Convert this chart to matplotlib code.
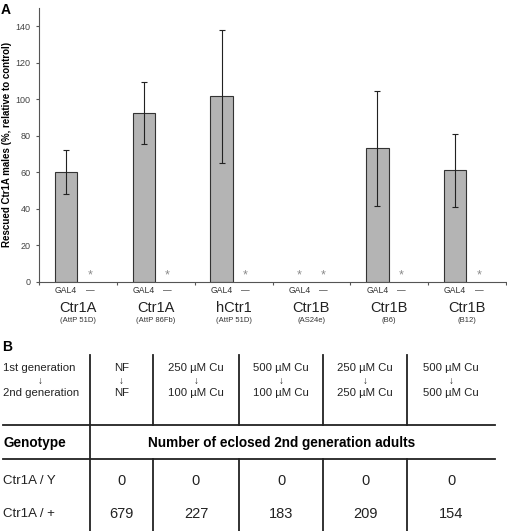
import matplotlib.pyplot as plt
import numpy as np

plt.rcParams['font.family'] = ['Liberation Sans', 'DejaVu Sans']

# panel A data
genes = ['Ctr1A', 'Ctr1A', 'hCtr1', 'Ctr1B', 'Ctr1B', 'Ctr1B']
sites = ['(AttP 51D)', '(AttP 86Fb)', '(AttP 51D)', '(AS24e)', '(B6)', '(B12)']
gal4_vals = [60, 92.5, 101.7, 0, 73, 61]
gal4_err = [12, 17, 36.5, 0, 31.7, 20]
ctrl_vals = [0, 0, 0, 0, 0, 0]
yticks = [0, 20, 40, 60, 80, 100, 120, 140]

# panel B data
gen1 = ['NF', '250 \u00b5M Cu', '500 \u00b5M Cu', '250 \u00b5M Cu', '500 \u00b5M Cu']
gen2 = ['NF', '100 \u00b5M Cu', '100 \u00b5M Cu', '250 \u00b5M Cu', '500 \u00b5M Cu']
genotypes = ['Ctr1A / Y', 'Ctr1A / +']
counts_y = [0, 0, 0, 0, 0]
counts_plus = [679, 227, 183, 209, 154]

W, H = 507, 531
fig = plt.figure(figsize=(W / 100, H / 100), dpi=100)

# ---- panel A ----
ax = fig.add_axes([39 / W, 1 - 281.7 / H, 467 / W, 273.7 / H])
x = np.arange(len(genes))
bw = 0.29
off = 0.153
vals = np.array(gal4_vals, dtype=float)
vals[vals == 0] = np.nan
ax.bar(x - off, vals, bw, color='#b4b4b4', edgecolor='#333333', linewidth=0.8, zorder=2)
for i in range(len(genes)):
    if gal4_vals[i] > 0:
        ax.errorbar(x[i] - off, gal4_vals[i], yerr=gal4_err[i], fmt='none',
                    ecolor='#222222', elinewidth=0.8, capsize=2.2, capthick=0.8, zorder=3)
    else:
        ax.text(x[i] - off, 0.3, '*', ha='center', va='bottom', fontsize=9, color='#8a8a8a')
    if ctrl_vals[i] == 0:
        ax.text(x[i] + off, 0.3, '*', ha='center', va='bottom', fontsize=9, color='#8a8a8a')

ax.set_xlim(-0.5, len(genes) - 0.5)
ax.set_ylim(0, 150)
ax.set_yticks(yticks)
ax.set_xticks(np.arange(len(genes) + 1) - 0.5)
ax.set_xticklabels([])
ax.tick_params(axis='both', direction='out', length=2.5, width=0.8, colors='#555555',
               labelsize=6.5)
ax.tick_params(axis='y', labelcolor='#444444')
for s in ['top', 'right']:
    ax.spines[s].set_visible(False)
for s in ['left', 'bottom']:
    ax.spines[s].set_color('#555555')
    ax.spines[s].set_linewidth(0.8)
ax.set_ylabel('Rescued Ctr1A males (%, relative to control)', fontsize=7, fontweight='bold')
ax.yaxis.set_label_coords(-0.058, 0.5)

tr = ax.get_xaxis_transform()
for i in range(len(genes)):
    ax.text(x[i] - off, -0.033, 'GAL4', transform=tr, ha='center', va='center',
            fontsize=6.2, color='#333333')
    ax.text(x[i] + off, -0.033, '\u2014', transform=tr, ha='center', va='center',
            fontsize=6.2, color='#333333')
    ax.text(x[i], -0.096, genes[i], transform=tr, ha='center', va='center',
            fontsize=10.5, color='#222222')
    ax.text(x[i], -0.141, sites[i], transform=tr, ha='center', va='center',
            fontsize=5.5, color='#333333')

# ---- panel B (table) ----
tb = fig.add_axes([0, 0, 1, 1])
tb.set_xlim(0, W)
tb.set_ylim(H, 0)
tb.axis('off')

fig.text(1 / W, 1 - 10 / H, 'A', fontsize=10, fontweight='bold', va='center', ha='left')
fig.text(2 / W, 1 - 347 / H, 'B', fontsize=10, fontweight='bold', va='center', ha='left')

cols = [90, 153, 239, 323, 407, 495]
lc = '#222222'
lw = 1.3
tb.plot([3, cols[-1]], [425, 425], color=lc, lw=lw)
tb.plot([3, cols[-1]], [459, 459], color=lc, lw=lw)
tb.plot([cols[0], cols[0]], [355, H], color=lc, lw=lw)
for c in cols[1:-1]:
    tb.plot([c, c], [355, 425], color=lc, lw=lw)
    tb.plot([c, c], [459, H], color=lc, lw=lw)

tb.text(3, 367.7, '1st generation', fontsize=8.2, va='center', ha='left', color='#222222')
tb.text(40, 380.5, '\u2193', fontsize=7, va='center', ha='center', color='#222222')
tb.text(3, 393, '2nd generation', fontsize=8.2, va='center', ha='left', color='#222222')
for j in range(len(gen1)):
    cx = (cols[j] + cols[j + 1]) / 2
    tb.text(cx, 367.7, gen1[j], fontsize=8.2, va='center', ha='center', color='#222222')
    tb.text(cx, 380.5, '\u2193', fontsize=7, va='center', ha='center', color='#222222')
    tb.text(cx, 393, gen2[j], fontsize=8.2, va='center', ha='center', color='#222222')
    tb.text(cx, 481, str(counts_y[j]), fontsize=10.5, va='center', ha='center', color='#222222')
    tb.text(cx, 514, str(counts_plus[j]), fontsize=10.5, va='center', ha='center', color='#222222')

tb.text(3, 442.5, 'Genotype', fontsize=9.8, fontweight='bold', va='center', ha='left')
tb.text(282, 442.5, 'Number of eclosed 2nd generation adults', fontsize=9.8,
        fontweight='bold', va='center', ha='center')
tb.text(3, 481, genotypes[0], fontsize=9.5, va='center', ha='left', color='#222222')
tb.text(3, 514, genotypes[1], fontsize=9.5, va='center', ha='left', color='#222222')

fig.savefig('out.png', dpi=100)
